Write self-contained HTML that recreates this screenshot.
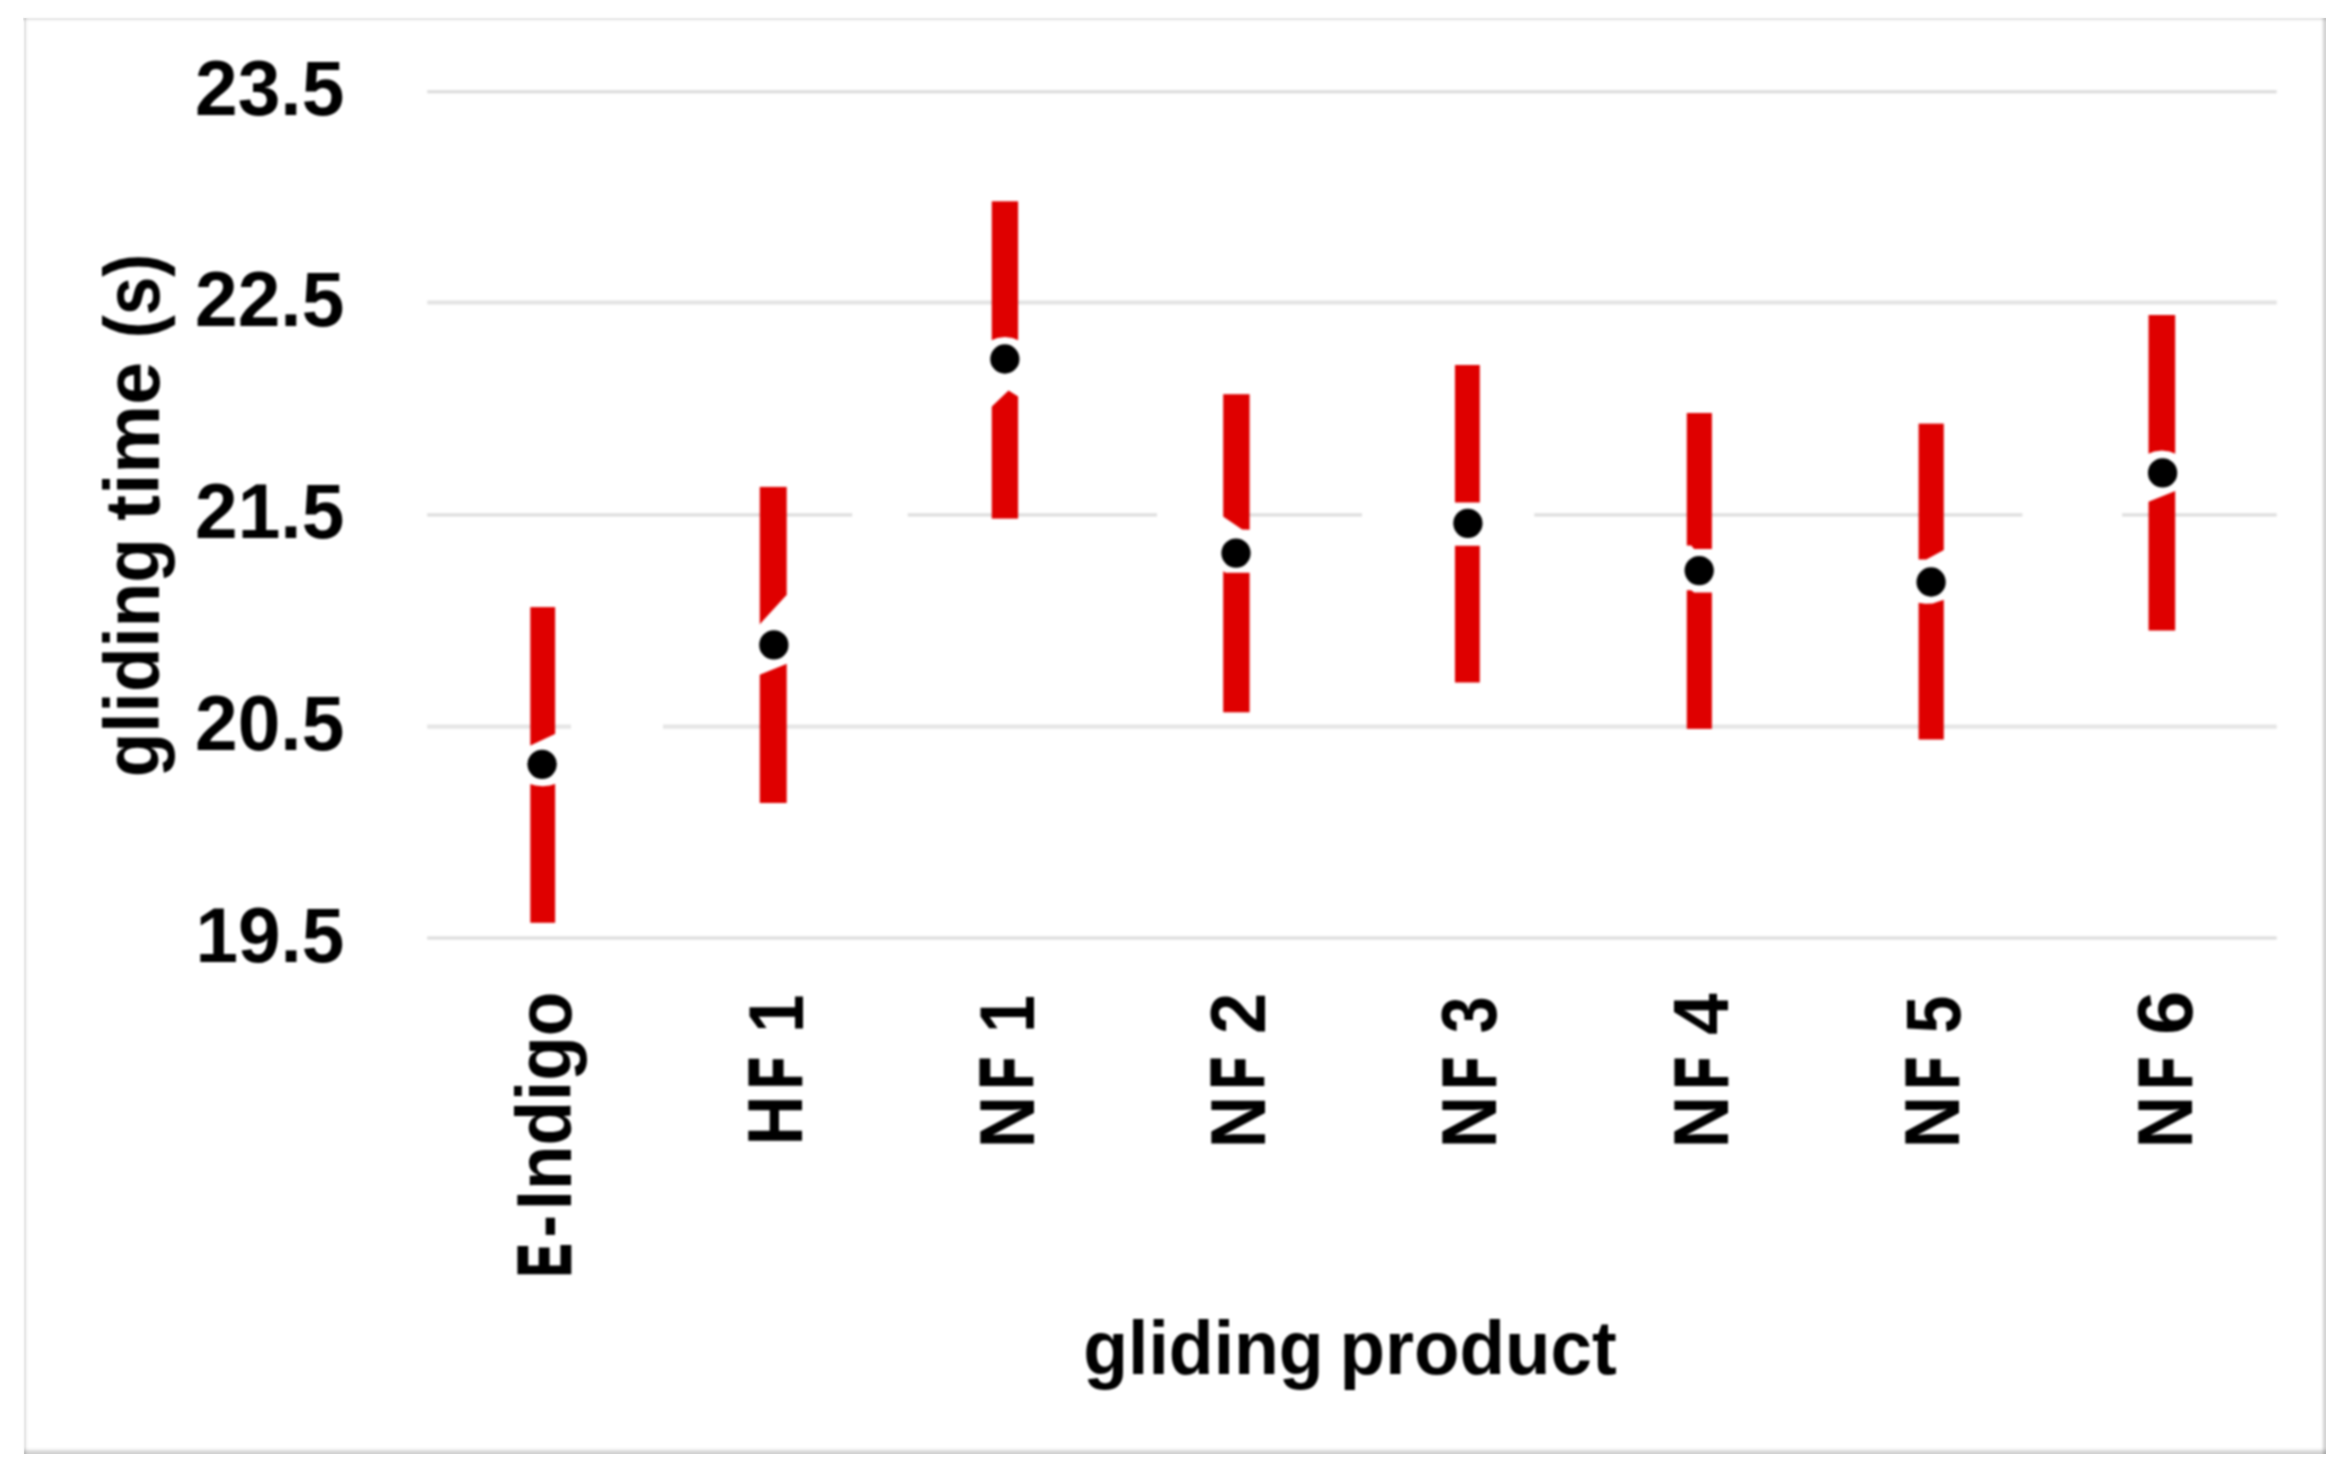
<!DOCTYPE html>
<html><head><meta charset="utf-8"><title>gliding time by gliding product</title>
<style>html,body{margin:0;padding:0;background:#fff}svg{display:block}</style></head>
<body><svg width="2348" height="1472" viewBox="0 0 2348 1472">
<defs><filter id="soft" color-interpolation-filters="sRGB" filterUnits="userSpaceOnUse" x="0" y="0" width="2348" height="1472"><feGaussianBlur stdDeviation="1.0"/></filter><linearGradient id="gb" x1="0" y1="0" x2="0" y2="1"><stop offset="0" stop-color="#ffffff"/><stop offset="0.0714" stop-color="#fcfcfc"/><stop offset="0.2143" stop-color="#f8f8f8"/><stop offset="0.3571" stop-color="#f0f0f0"/><stop offset="0.5000" stop-color="#e6e6e6"/><stop offset="0.6429" stop-color="#dddddd"/><stop offset="0.7857" stop-color="#d6d6d6"/><stop offset="0.9286" stop-color="#d2d2d2"/><stop offset="1" stop-color="#d1d1d1"/></linearGradient><linearGradient id="gr" x1="0" y1="0" x2="1" y2="0"><stop offset="0" stop-color="#ffffff"/><stop offset="0.0833" stop-color="#fdfdfd"/><stop offset="0.2500" stop-color="#f8f8f8"/><stop offset="0.4167" stop-color="#eeeeee"/><stop offset="0.5833" stop-color="#e2e2e2"/><stop offset="0.7500" stop-color="#d8d8d8"/><stop offset="0.9167" stop-color="#d5d5d5"/><stop offset="1" stop-color="#d4d4d4"/></linearGradient><linearGradient id="gt" x1="0" y1="0" x2="0" y2="1"><stop offset="0" stop-color="#ffffff"/><stop offset="0.0714" stop-color="#fefefe"/><stop offset="0.2143" stop-color="#f9f9f9"/><stop offset="0.3571" stop-color="#eeeeee"/><stop offset="0.5000" stop-color="#ececec"/><stop offset="0.6429" stop-color="#f5f5f5"/><stop offset="0.7857" stop-color="#fbfbfb"/><stop offset="0.9286" stop-color="#fefefe"/><stop offset="1" stop-color="#ffffff"/></linearGradient><linearGradient id="gl" x1="0" y1="0" x2="1" y2="0"><stop offset="0" stop-color="#ffffff"/><stop offset="0.0714" stop-color="#fefefe"/><stop offset="0.2143" stop-color="#f9f9f9"/><stop offset="0.3571" stop-color="#ebebeb"/><stop offset="0.5000" stop-color="#e8e8e8"/><stop offset="0.6429" stop-color="#f3f3f3"/><stop offset="0.7857" stop-color="#fafafa"/><stop offset="0.9286" stop-color="#fdfdfd"/><stop offset="1" stop-color="#ffffff"/></linearGradient></defs>
<rect width="2348" height="1472" fill="#fff"/>
<g filter="url(#soft)">
<rect width="2348" height="1472" fill="#fff"/>
<g fill="none"><path d="M427.2 91.7H2276.7" stroke="#dbdbdb" stroke-width="3.0"/><path d="M427.2 302.5H2276.7" stroke="#e3e3e3" stroke-width="4.2"/><path d="M427.2 514.9H852.2M907.8 514.9H1157M1236 514.9H1362M1534.3 514.9H2022.4M2122.1 514.9H2276.7" stroke="#dedede" stroke-width="3.4"/><path d="M427.2 726.6H571M663 726.6H2276.7" stroke="#e5e5e5" stroke-width="4.4"/><path d="M427.2 938.1H2276.7" stroke="#dbdbdb" stroke-width="3.0"/></g>
<rect x="530.3" y="607.1" width="24.85" height="315.7" fill="#df0000"/>
<polygon fill="#fff" points="528.3,746.4 557.15,733.1 557.15,783.3 549.94,785.6 542.72,786.3 535.51,785.6 528.3,783.4"/>
<circle cx="542.1" cy="764.35" r="14.65" fill="#000"/>
<rect x="759.75" y="486.9" width="26.95" height="316.1" fill="#df0000"/>
<polygon fill="#fff" points="757.75,626.4 785.61,596 788.7,593.8 788.7,663.1 757.75,675.4"/>
<circle cx="773.85" cy="644.95" r="14.65" fill="#000"/>
<rect x="991.75" y="201.3" width="26.35" height="317.3" fill="#df0000"/>
<polygon fill="#fff" points="989.75,341 997.34,338 1004.92,336.9 1012.51,338 1020.1,341 1020.1,397.7 1008.57,390.6 989.75,408.6"/>
<circle cx="1004.85" cy="359.0" r="14.65" fill="#000"/>
<rect x="1223.2" y="394.2" width="26.4" height="318.1" fill="#df0000"/>
<polygon fill="#fff" points="1221.2,515.2 1242.18,529.6 1251.6,529.8 1251.6,572.8 1225.76,572.7 1221.2,569.9"/>
<circle cx="1236.0" cy="553.05" r="14.65" fill="#000"/>
<rect x="1454.95" y="365" width="24.85" height="317.5" fill="#df0000"/>
<polygon fill="#fff" points="1452.95,502.6 1481.8,502.6 1481.8,545.7 1452.95,545.7"/>
<circle cx="1467.9" cy="523.3" r="14.65" fill="#000"/>
<rect x="1686.8" y="413" width="25.1" height="315.9" fill="#df0000"/>
<polygon fill="#fff" points="1684.8,545.5 1691.2,545.5 1694.11,548.9 1713.9,548.9 1713.9,592.5 1694.11,592.5 1691.2,590.3 1684.8,590.3"/>
<circle cx="1699.2" cy="570.6" r="14.65" fill="#000"/>
<rect x="1918.6" y="423.6" width="25.2" height="315.9" fill="#df0000"/>
<polygon fill="#fff" points="1916.6,559.5 1926.24,559.5 1945.8,549 1945.8,599.3 1938.5,601.5 1932.66,603.6 1925.36,603.8 1916.6,602.5"/>
<circle cx="1931.1" cy="582.0" r="14.65" fill="#000"/>
<rect x="2148.55" y="315" width="26.65" height="315.5" fill="#df0000"/>
<polygon fill="#fff" points="2146.55,454.5 2154.21,451.6 2161.88,450.5 2169.54,451.6 2177.2,454.5 2177.2,490.2 2146.55,502.4"/>
<circle cx="2162.6" cy="472.9" r="14.65" fill="#000"/>
<g font-family="'Liberation Sans', sans-serif" font-weight="bold" font-size="100" fill="#000">
<text transform="matrix(0.7666,0,0,0.7759,195.12,115.00)">23.5</text>
<text transform="matrix(0.7666,0,0,0.7759,195.12,326.30)">22.5</text>
<text transform="matrix(0.7666,0,0,0.7759,195.12,537.70)">21.5</text>
<text transform="matrix(0.7666,0,0,0.7759,195.12,749.70)">20.5</text>
<text transform="matrix(0.7650,0,0,0.7759,195.43,961.90)">19.5</text>
<text transform="matrix(0,-0.7297,0.7749,0,158.90,777.22)">gliding</text>
<text transform="matrix(0,-0.7736,0.7749,0,158.90,520.87)"> time</text>
<text transform="matrix(0,-0.6929,0.7749,0,158.90,338.26)"> (s)</text>
<text transform="matrix(0.7338,0,0,0.7649,1083.26,1373.70)">gliding</text>
<text transform="matrix(0.7454,0,0,0.7649,1339.45,1373.70)"> product</text>
<text transform="matrix(0,-0.4903,0.7384,0,569.80,1276.69)" stroke="#000" stroke-width="2.2" vector-effect="non-scaling-stroke">E</text>
<text transform="matrix(0,-0.6745,0.7699,0,570.90,1237.50)">-</text>
<text transform="matrix(0,-0.7282,0.7699,0,570.90,1210.23)">Indigo</text>
<text transform="matrix(0,-0.6864,0.7699,0,802.40,1145.16)">H</text>
<text transform="matrix(0,-0.4980,0.7384,0,801.30,1088.14)" stroke="#000" stroke-width="2.2" vector-effect="non-scaling-stroke">F</text>
<text transform="matrix(0,-0.6882,0.7777,0,802.80,1032.77)"> 1</text>
<text transform="matrix(0,-0.7305,0.7699,0,1033.50,1148.45)">N</text>
<text transform="matrix(0,-0.5059,0.7384,0,1032.40,1088.59)" stroke="#000" stroke-width="2.2" vector-effect="non-scaling-stroke">F</text>
<text transform="matrix(0,-0.6753,0.7777,0,1033.90,1032.69)"> 1</text>
<text transform="matrix(0,-0.7305,0.7699,0,1264.50,1148.45)">N</text>
<text transform="matrix(0,-0.5059,0.7384,0,1263.40,1088.59)" stroke="#000" stroke-width="2.2" vector-effect="non-scaling-stroke">F</text>
<text transform="matrix(0,-0.7417,0.7777,0,1264.90,1034.10)"> 2</text>
<text transform="matrix(0,-0.7305,0.7699,0,1496.00,1148.45)">N</text>
<text transform="matrix(0,-0.5059,0.7384,0,1494.90,1088.59)" stroke="#000" stroke-width="2.2" vector-effect="non-scaling-stroke">F</text>
<text transform="matrix(0,-0.6626,0.7777,0,1496.40,1033.16)"> 3</text>
<text transform="matrix(0,-0.7305,0.7699,0,1727.60,1148.45)">N</text>
<text transform="matrix(0,-0.5059,0.7384,0,1726.50,1088.59)" stroke="#000" stroke-width="2.2" vector-effect="non-scaling-stroke">F</text>
<text transform="matrix(0,-0.7514,0.7777,0,1728.00,1034.93)"> 4</text>
<text transform="matrix(0,-0.7305,0.7699,0,1959.10,1148.45)">N</text>
<text transform="matrix(0,-0.5059,0.7384,0,1958.00,1088.59)" stroke="#000" stroke-width="2.2" vector-effect="non-scaling-stroke">F</text>
<text transform="matrix(0,-0.6800,0.7777,0,1959.50,1033.54)"> 5</text>
<text transform="matrix(0,-0.7305,0.7699,0,2191.80,1148.45)">N</text>
<text transform="matrix(0,-0.5059,0.7384,0,2190.70,1088.59)" stroke="#000" stroke-width="2.2" vector-effect="non-scaling-stroke">F</text>
<text transform="matrix(0,-0.7979,0.7777,0,2192.20,1035.09)"> 6</text>
</g>
</g>
<g style="isolation:auto"><rect x="23" y="16" width="2303" height="7" fill="url(#gt)" style="mix-blend-mode:multiply"/><rect x="22" y="18" width="7" height="1436" fill="url(#gl)" style="mix-blend-mode:multiply"/><rect x="24" y="1447" width="2302" height="7" fill="url(#gb)" style="mix-blend-mode:multiply"/><rect x="2320" y="18" width="6" height="1436" fill="url(#gr)" style="mix-blend-mode:multiply"/></g>
</svg></body></html>
